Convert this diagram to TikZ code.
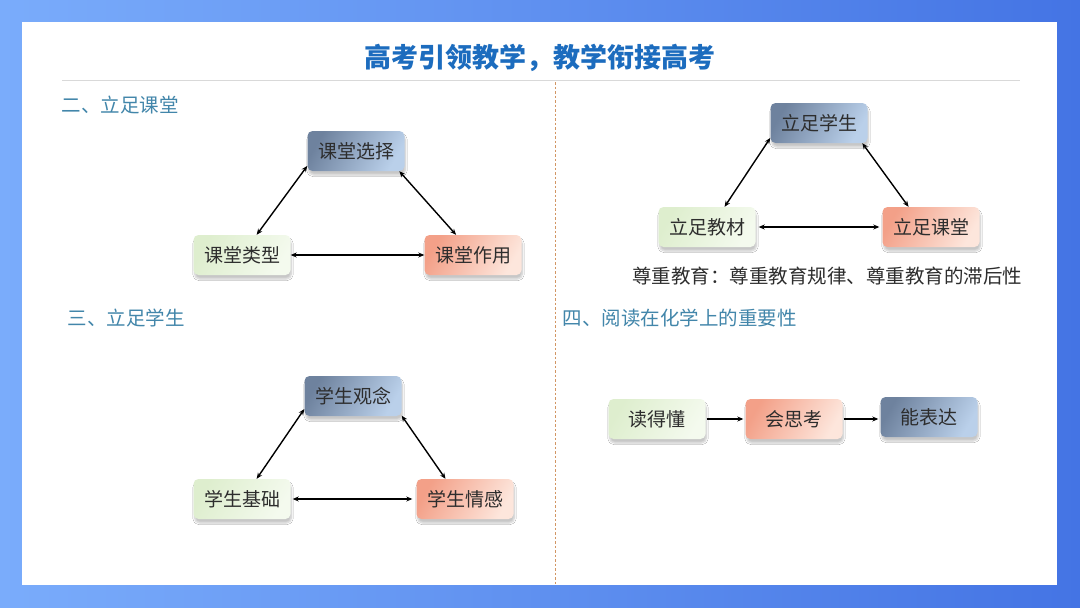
\documentclass[tikz,border=0pt]{standalone}
\usepackage{fontspec}
\newfontfamily\cjk{Noto Sans CJK SC}
\usepackage{tikz}
\usetikzlibrary{shadows.blur}

\definecolor{bgl}{RGB}{122,172,251}
\definecolor{bgr}{RGB}{68,116,228}
\definecolor{ttl}{RGB}{28,108,190}
\definecolor{sec}{RGB}{66,134,170}
\definecolor{txt}{RGB}{45,45,45}
\definecolor{slated}{RGB}{110,130,158}
\definecolor{slatel}{RGB}{186,208,234}
\definecolor{greenl}{RGB}{222,238,206}
\definecolor{greenr}{RGB}{244,250,238}
\definecolor{salmd}{RGB}{243,160,136}
\definecolor{salml}{RGB}{253,230,220}
\definecolor{sepcol}{RGB}{210,150,100}

\tikzset{
	box/.style = {rounded corners = 5pt, minimum width = 97pt, minimum height = 40pt,
		text = txt, font = \cjk\fontsize{19pt}{21pt}\selectfont,
		blur shadow = {shadow xshift = 1pt, shadow yshift = -4pt, shadow opacity = 22, shadow blur steps = 6}},
	bluebox/.style = {box, left color = slated, right color = slatel, shading angle = 60},
	greenbox/.style = {box, left color = greenl, right color = greenr, shading angle = 60},
	redbox/.style = {box, left color = salmd, right color = salml, shading angle = 60},
	head/.style = {anchor = west, text = sec, font = \cjk\fontsize{19.5pt}{21pt}\selectfont},
	link/.style = {line width = 1.4pt, >={Stealth[length = 6pt, width = 5pt]}}
}
\usetikzlibrary{arrows.meta}

\begin{document}
\begin{tikzpicture}[x = 1pt, y = -1pt]
	\useasboundingbox (0, 0) rectangle (1080, 608);
	\shade[left color = bgl, right color = bgr] (0, 0) rectangle (1080, 608);
	\fill[white] (22, 22) rectangle (1057, 585);
	% title and rules
	\node[text = ttl, font = \cjk\bfseries\fontsize{27pt}{29pt}\selectfont] (title) at (540, 58) {高考引领教学，教学衔接高考};
	\draw[black!15] (62, 80) -- (1020, 80);
	\draw[sepcol, line width = 1pt, dash pattern = on 2.5pt off 2pt] (555, 82) -- (555, 584);
	% headings
	\node[head] (h2) at (58, 105) {二、立足课堂};
	\node[head] (h3) at (64, 318) {三、立足学生};
	\node[head] (h4) at (559, 318) {四、阅读在化学上的重要性};
	% 课堂
	\node[bluebox] (kxz) at (356, 151) {课堂选择};
	\node[greenbox] (klx) at (242, 255) {课堂类型};
	\node[redbox] (kzy) at (473, 255) {课堂作用};
	\draw[link, <->] (kxz.197) -- (klx.54);
	\draw[link, <->] (kxz.-25) -- (kzy.130);
	\draw[link, <->] (klx.east) -- (kzy.west);
	% 立足
	\node[bluebox] (lxs) at (819, 123) {立足学生};
	\node[greenbox] (ljc) at (707, 227) {立足教材};
	\node[redbox] (lkt) at (931, 227) {立足课堂};
	\draw[link, <->] (lxs.197) -- (ljc.49);
	\draw[link, <->] (lxs.-25) -- (lkt.138);
	\draw[link, <->] ([xshift = 3pt]ljc.east) -- ([xshift = -3pt]lkt.west);
	\node[text = txt, font = \cjk\fontsize{19.5pt}{21pt}\selectfont] (note) at (827, 276) {尊重教育：尊重教育规律、尊重教育的滞后性};
	% 学生
	\node[bluebox] (sgn) at (353, 396) {学生观念};
	\node[greenbox] (sjc) at (242, 499) {学生基础};
	\node[redbox] (sqg) at (465, 499) {学生情感};
	\draw[link, <->] (sgn.195) -- (sjc.54);
	\draw[link, <->] (sgn.-22) -- (sqg.134);
	\draw[link, <->] ([xshift = 2pt]sjc.east) -- ([xshift = -4pt]sqg.west);
	% 阅读
	\node[greenbox] (ddd) at (657, 419) {读得懂};
	\node[redbox] (hsk) at (794, 419) {会思考};
	\node[bluebox] (nbd) at (929, 417) {能表达};
	\draw[link, ->] ([xshift = 1pt]ddd.east) -- ([xshift = -2pt]hsk.west);
	\draw[link, ->] ([xshift = 1pt]hsk.east) -- ([xshift = -2pt]hsk.east -| nbd.west);
\end{tikzpicture}
\end{document}
